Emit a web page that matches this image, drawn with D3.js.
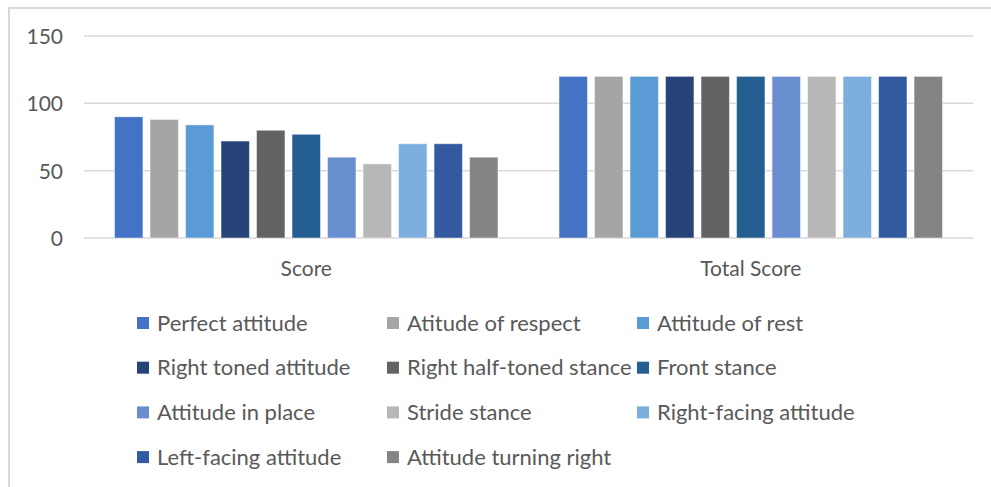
<!DOCTYPE html>
<html>
<head>
<meta charset="utf-8">
<script src="https://cdn.jsdelivr.net/npm/d3@7"></script>
<style>
  body { margin: 0; background: #fff; }
  text { font-family: Lato, "Open Sans", sans-serif; fill: #595959; }
</style>
</head>
<body>
<div class="chart"></div>
<script>
// categories on the x axis
var categories = ["Score", "Total Score"];

// series names (legend order)
var series = [
    "Perfect attitude", "Atitude of respect", "Attitude of rest",
    "Right toned attitude", "Right half-toned stance", "Front stance",
    "Attitude in place", "Stride stance", "Right-facing attitude",
    "Left-facing attitude", "Attitude turning right"
];

// values per series: [Score, Total Score]
var scoreValues = [90, 88, 84, 72, 80, 77, 60, 55, 70, 70, 60];
var totalValues = [120, 120, 120, 120, 120, 120, 120, 120, 120, 120, 120];

var yTicks = [0, 50, 100, 150];

var colors = ["#4472C4", "#A5A5A5", "#5B9BD5", "#264478", "#636363", "#255E91",
              "#698ED0", "#B7B7B7", "#7CAFDD", "#335AA1", "#848484"];

var svgWidth = 991, svgHeight = 487;
var margin = { top: 36, right: 18, bottom: 249, left: 84 };
var width = svgWidth - margin.left - margin.right;
var height = svgHeight - margin.top - margin.bottom;

var svg = d3.select(".chart").append("svg")
    .attr("width", svgWidth)
    .attr("height", svgHeight);

// chart border (only left and top visible in the crop)
svg.append("path")
    .attr("d", "M9,487 V8 H991")
    .attr("fill", "none")
    .attr("stroke", "#d9d9d9")
    .attr("stroke-width", 2);

var chartGroup = svg.append("g")
    .attr("transform", `translate(${margin.left}, ${margin.top})`);

var yScale = d3.scaleLinear().domain([0, 150]).range([height, 0]);

var x0 = d3.scaleBand().domain(categories).range([0, width]).padding(0);
var x1 = d3.scaleBand().domain(series).range([0, x0.bandwidth()])
    .paddingInner(0.2).paddingOuter(0.86);

// gridlines
chartGroup.append("g")
    .selectAll("line")
    .data(yTicks)
    .enter()
    .append("line")
    .attr("x1", 0)
    .attr("x2", width)
    .attr("y1", d => yScale(d))
    .attr("y2", d => yScale(d))
    .attr("stroke", "#d9d9d9")
    .attr("stroke-width", 1.5);

// y axis labels
var leftAxis = d3.axisLeft(yScale).tickValues(yTicks).tickSize(0).tickPadding(21);
var yAxis = chartGroup.append("g").call(leftAxis);
yAxis.select(".domain").remove();
yAxis.selectAll("text")
    .style("font-size", "21px")
    .attr("dy", "0.35em");

// bars
var data = categories.map((c, i) => ({
    cat: c,
    vals: series.map((s, j) => ({ name: s, value: i === 0 ? scoreValues[j] : totalValues[j], color: colors[j] }))
}));

chartGroup.append("g")
    .selectAll("g")
    .data(data)
    .enter()
    .append("g")
    .attr("transform", d => `translate(${x0(d.cat)}, 0)`)
    .selectAll("rect")
    .data(d => d.vals)
    .enter()
    .append("rect")
    .attr("x", d => x1(d.name))
    .attr("width", x1.bandwidth())
    .attr("y", d => yScale(d.value))
    .attr("height", d => height - yScale(d.value))
    .attr("fill", d => d.color)
    .attr("stroke", "rgba(255,255,255,0.45)")
    .attr("stroke-width", 1);

// x axis labels
var bottomAxis = d3.axisBottom(x0).tickSize(0).tickPadding(23);
var xAxis = chartGroup.append("g")
    .attr("transform", `translate(0, ${height})`)
    .call(bottomAxis);
xAxis.select(".domain").remove();
xAxis.selectAll("text").style("font-size", "21px");

// legend
var legend = svg.append("g").selectAll("g")
    .data(series)
    .enter()
    .append("g")
    .attr("transform", (d, i) => `translate(${137 + (i % 3) * 250}, ${323 + Math.floor(i / 3) * 44.7})`);

legend.append("rect")
    .attr("x", 0)
    .attr("y", -6)
    .attr("width", 12)
    .attr("height", 12)
    .attr("fill", (d, i) => colors[i]);

legend.append("text")
    .attr("x", 20)
    .attr("y", 0)
    .attr("dy", "0.35em")
    .style("font-size", "22px")
    .text(d => d);
</script>
</body>
</html>
